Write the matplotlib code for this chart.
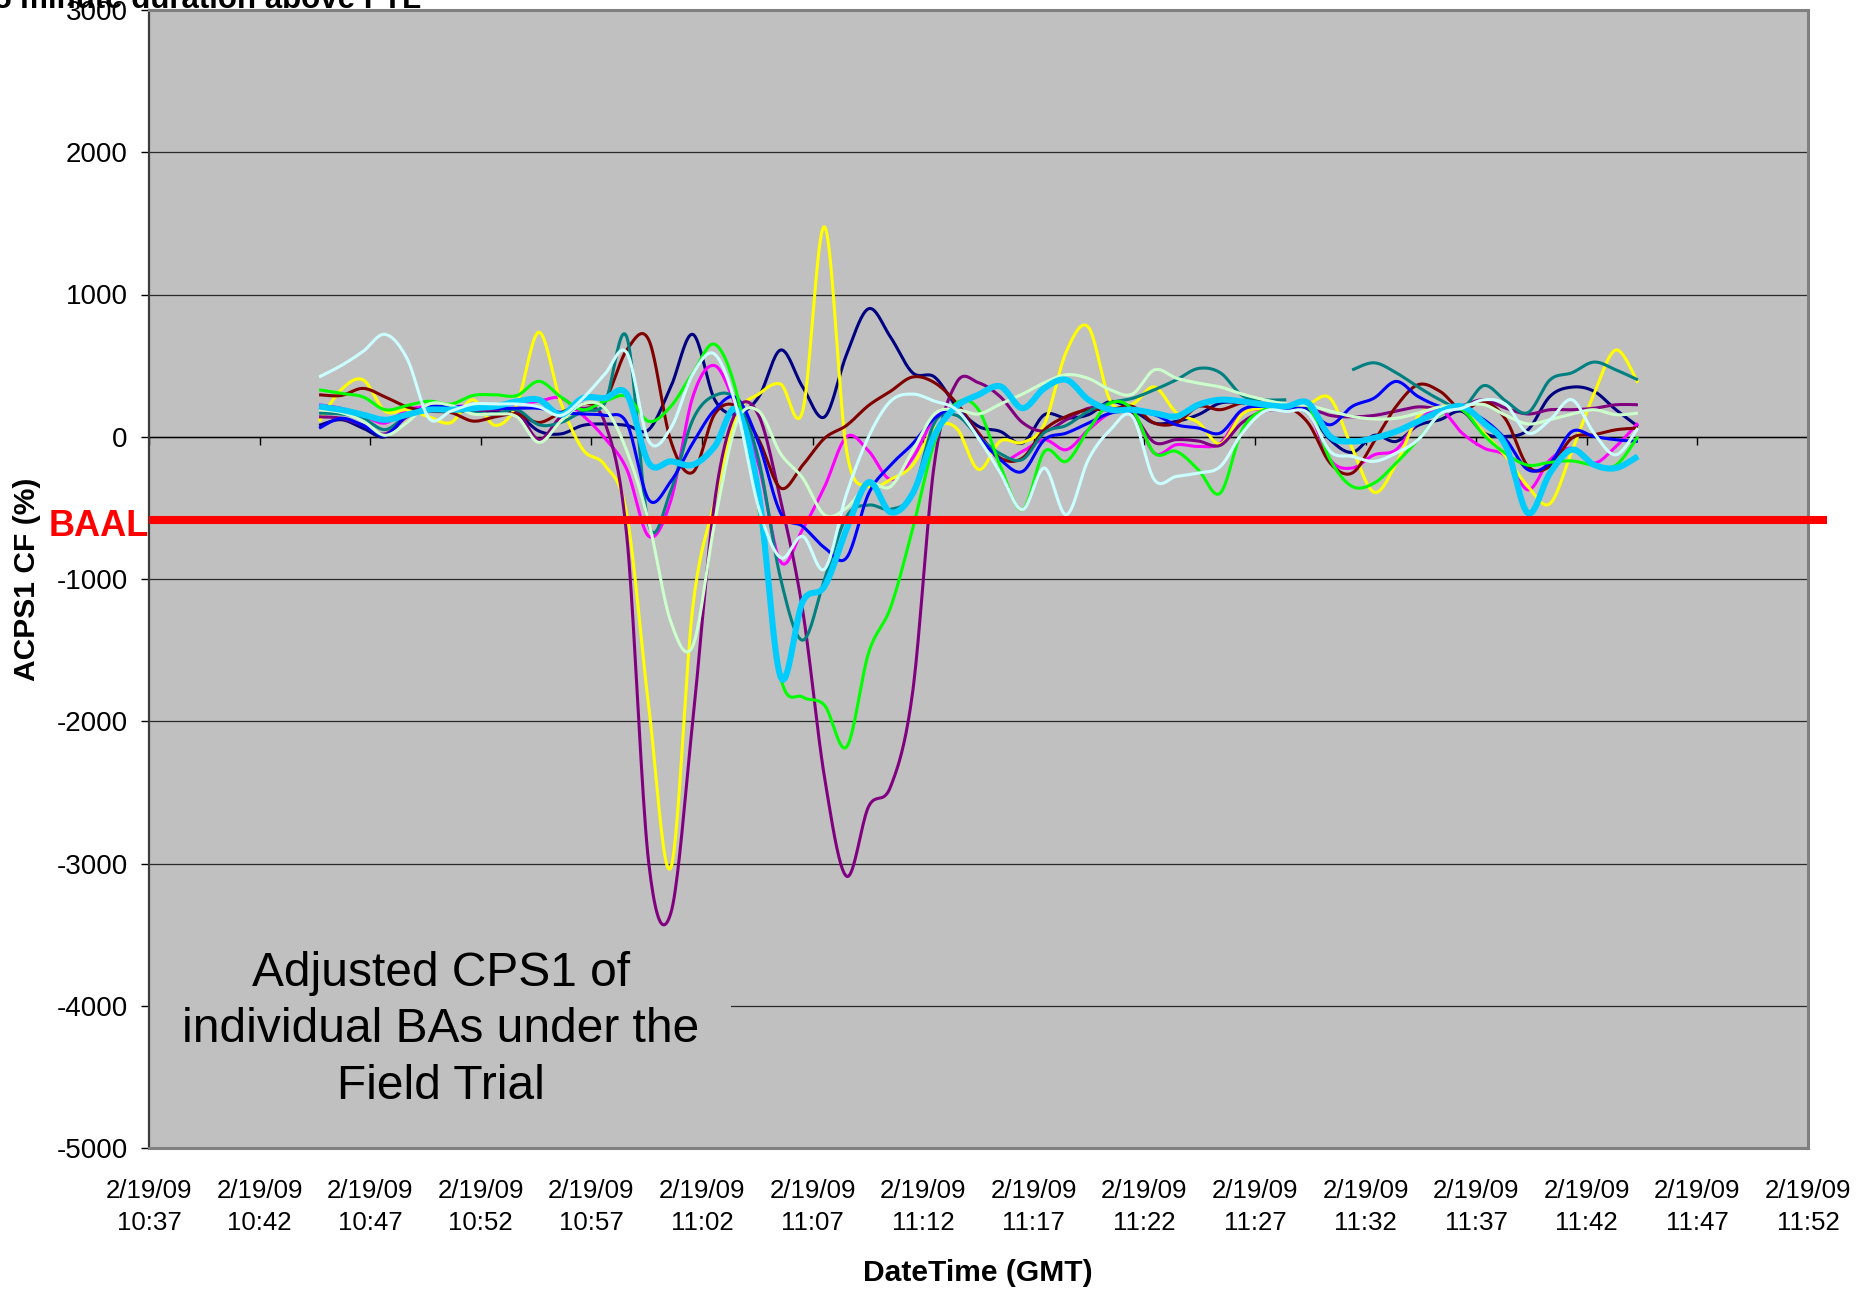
import numpy as np
import matplotlib
matplotlib.use("Agg")
import matplotlib.pyplot as plt
from matplotlib.patches import Rectangle
import matplotlib.transforms as mtransforms

# ---------------- data ----------------
# x axis: minutes after 2/19/09 10:37 GMT
tick_minutes = [0, 5, 10, 15, 20, 25, 30, 35, 40, 45, 50, 55, 60, 65, 70, 75]
tick_labels = ["2/19/09\n10:37", "2/19/09\n10:42", "2/19/09\n10:47", "2/19/09\n10:52",
               "2/19/09\n10:57", "2/19/09\n11:02", "2/19/09\n11:07", "2/19/09\n11:12",
               "2/19/09\n11:17", "2/19/09\n11:22", "2/19/09\n11:27", "2/19/09\n11:32",
               "2/19/09\n11:37", "2/19/09\n11:42", "2/19/09\n11:47", "2/19/09\n11:52"]
y_ticks = [3000, 2000, 1000, 0, -1000, -2000, -3000, -4000, -5000]
BAAL_LEVEL = -585

# 61 samples, roughly one per minute, from about 10:44:41 to 11:44:19
sample_minutes = np.linspace(7.69, 67.31, 61)

nan = np.nan
navy = [80, 120, 60, 0, 150, 200, 190, 180, 170, 160, 40, 20, 80, 90, 80, 50, 350, 720, 260, 160,
        280, 610, 350, 140, 580, 900, 700, 450, 420, 213, 73, 37, -45, 155, 131, 155, 248, 190, 96, 108,
        155, 237, 237, 213, 201, 170, -21, -110, 10, -33, 80, 120, 178, 26, 2, 49, 284, 349, 320, 190, 73]
magenta = [225, 200, 150, 96, 190, 210, 210, 220, 220, 230, 250, 272, 150, -10, -230, -700, -450, 280, 500, 200,
           -200, -880, -650, -350, 0, -100, -300, -150, 130, 190, 26, -162, -103, -21, -91, 49, 166, 178, -115, -56,
           -68, -45, 166, 190, 190, 178, -162, -220, -127, -91, 108, 190, 26, -80, -138, -373, -162, -80, -185, -68, 96]
yellow = [108, 330, 400, 180, 190, 140, 100, 260, 80, 230, 735, 240, -90, -200, -550, -1900, -3030, -1200, -450, 150,
          300, 370, 180, 1476, -100, -350, -300, -200, 60, 60, -230, -30, -40, 90, 600, 770, 250, 230, 350, 170,
          100, -50, 160, 200, 200, 230, 270, -80, -390, -190, 143, 213, 190, 26, -140, -350, -470, -100, 300, 610, 380]
lightcyan = [420, 500, 600, 720, 550, 130, 180, 230, 230, 230, 210, 150, 270, 440, 590, -30, 60, 440, 580, 200,
             -500, -850, -700, -930, -400, 0, 250, 300, 250, 190, -10, -255, -513, -220, -548, -160, 49, 143, -302, -279,
             -255, -209, 26, 178, 178, 166, -103, -138, -173, -115, -21, 160, 201, 260, 225, 26, 119, 260, 26, -127, 61]
purple = [140, 130, 80, 20, 140, 190, 200, 180, 190, 180, -20, 140, 200, 100, -700, -3000, -3350, -2000, -450, 185,
          150, -450, -1220, -2400, -3090, -2600, -2460, -1800, -180, 380, 380, 280, 100, 40, 120, 200, 200, 160, -40, -20,
          -30, -60, 100, 180, 190, 200, 150, 140, 150, 180, 210, 200, 220, 260, 200, 160, 190, 190, 200, 225, 225]
maroon = [295, 290, 340, 280, 210, 180, 170, 110, 140, 160, 100, 170, 230, 260, 611, 680, -30, -250, 160, 213,
          -21, -361, -200, -10, 80, 220, 320, 420, 380, 237, 26, -150, -150, 49, 143, 190, 190, 213, 96, 96,
          213, 190, 237, 225, 213, 96, -185, -255, -33, 213, 366, 319, 190, 248, 119, -208, -208, -9, 14, 49, 61]
teal = [166, 160, 130, 50, 150, 200, 190, 170, 160, 190, 84, 100, 180, 237, 700, -620, -380, 119, 290, 250,
        -162, -1000, -1430, -1000, -560, -480, -510, -400, 100, 150, 0, -120, -160, 30, 80, 180, 240, 270, 330, 400,
        480, 450, 290, 260, 260, nan, nan, 470, 520, 450, 350, 260, 200, 360, 250, 170, 400, 450, 525, 470, 400]
blue = [60, 130, 80, 10, 150, 210, 210, 210, 200, 200, 200, 170, 160, 150, 96, -443, -314, -45, 190, 272,
        -45, -537, -630, -780, -850, -400, -200, -50, 130, 190, 2, -162, -244, -21, 26, 96, 166, 178, 155, 84,
        61, 26, 190, 213, 201, 190, 84, 213, 272, 389, 283, 213, 190, 119, -21, -232, -185, 37, 2, -21, -33]
skyblue = [213, 190, 155, 119, 155, 190, 190, 201, 213, 248, 260, 155, 272, 272, 300, -185, -173, -197, -68, 190,
           -400, -1690, -1160, -1050, -650, -320, -531, -400, 12, 213, 295, 354, 201, 342, 400, 260, 190, 190, 166, 143,
           225, 260, 248, 225, 213, 237, 2, -33, -9, 37, 108, 178, 213, 96, -68, -537, -255, -91, -197, -220, -138]
green = [330, 305, 280, 190, 220, 250, 230, 290, 295, 290, 390, 280, 190, 250, 283, 108, 213, 447, 650, 307,
         -500, -1690, -1830, -1889, -2180, -1519, -1200, -650, -40, 237, 190, -209, -513, -103, -173, 49, 237, 190, -115, -103,
         -232, -396, 49, 190, 213, 213, -162, -349, -326, -185, -21, 155, 190, 10, -120, -200, -180, -170, -200, -200, 0]
lightgreen = [190, 170, 110, 10, 100, 230, 220, 160, 160, 140, -40, 110, 230, 200, -100, -600, -1300, -1470, -600, 100,
              180, -120, -290, -550, -500, -330, -350, -100, 160, 190, 160, 230, 300, 380, 436, 410, 330, 300, 470, 412,
              377, 350, 300, 260, 230, 220, 180, 143, 125, 130, 166, 210, 220, 225, 150, 90, 120, 160, 190, 155, 166]

series = [
    (navy, "#000080", 2.2),
    (magenta, "#FF00FF", 2.2),
    (yellow, "#FFFF00", 2.2),
    (purple, "#800080", 2.2),
    (maroon, "#800000", 2.2),
    (teal, "#008080", 2.2),
    (blue, "#0000FF", 2.2),
    (green, "#00FF00", 2.2),
    (lightgreen, "#CCFFCC", 2.2),
    (skyblue, "#00CCFF", 4.4),
    (lightcyan, "#CCFFFF", 2.2),
]


def smooth(x, y, n=20):
    """Excel-like smoothed line (Bezier through every point)."""
    x = np.asarray(x, float)
    y = np.asarray(y, float)
    if len(x) < 3:
        return x, y
    px = np.concatenate([[x[0]], x, [x[-1]]])
    py = np.concatenate([[y[0]], y, [y[-1]]])
    t = np.linspace(0, 1, n, endpoint=False)[:, None]
    xs, ys = [], []
    for i in range(len(x) - 1):
        p0 = np.array([px[i], py[i]])
        p1 = np.array([px[i + 1], py[i + 1]])
        p2 = np.array([px[i + 2], py[i + 2]])
        p3 = np.array([px[i + 3], py[i + 3]])
        c1 = p1 + (p2 - p0) / 6.0
        c2 = p2 - (p3 - p1) / 6.0
        pts = ((1 - t) ** 3) * p1 + 3 * ((1 - t) ** 2) * t * c1 + 3 * (1 - t) * t ** 2 * c2 + t ** 3 * p2
        xs.append(pts[:, 0])
        ys.append(pts[:, 1])
    xs.append([x[-1]])
    ys.append([y[-1]])
    return np.concatenate(xs), np.concatenate(ys)


# ---------------- figure ----------------
plt.rcParams["font.family"] = ["Liberation Sans", "DejaVu Sans"]
fig = plt.figure(figsize=(18.72, 12.90), dpi=100)
ax = fig.add_axes([149 / 1872, 1 - 1148 / 1290, (1808 - 149) / 1872, (1148 - 10) / 1290])
ax.set_facecolor("#C0C0C0")
ax.set_xlim(tick_minutes[0], tick_minutes[-1])
ax.set_ylim(y_ticks[-1], y_ticks[0])
ax.set_axisbelow(True)

ax.set_yticks(y_ticks)
ax.set_yticklabels([str(v) for v in y_ticks])
ax.tick_params(axis="y", direction="out", length=8 * 0.72, width=1, color="black",
               labelsize=20, pad=9.5)
ax.set_xticks(tick_minutes)
ax.set_xticklabels(tick_labels)
ax.tick_params(axis="x", length=0, labelsize=18.6, pad=22)
for lab in ax.get_xticklabels():
    lab.set_multialignment("center")
    lab.set_linespacing(1.46)

ax.yaxis.grid(True, color="#2a2a2a", linewidth=0.9)
ax.xaxis.grid(False)

for side in ["top", "right", "bottom"]:
    ax.spines[side].set_color("#808080")
    ax.spines[side].set_linewidth(2.2)
ax.spines["left"].set_color("#3c3c3c")
ax.spines["left"].set_linewidth(1.6)

# category axis line at zero with downward tick marks
ax.axhline(0, color="black", linewidth=1.0, zorder=0.8)
ax.plot(tick_minutes, np.zeros(len(tick_minutes)), linestyle="none", marker=3,
        markersize=8 * 0.72, markeredgewidth=1.0, color="black", zorder=0.8, clip_on=False)

# text box area (covers gridline)
ax.add_patch(Rectangle((0, 0), (731 - 149) / 1659, 0.19, transform=ax.transAxes,
                       facecolor="#C0C0C0", edgecolor="none", zorder=0.9))

# series
for vals, col, lw in series:
    v = np.asarray(vals, float)
    assert len(v) == len(sample_minutes)
    ok = ~np.isnan(v)
    idx = np.where(ok)[0]
    runs = np.split(idx, np.where(np.diff(idx) != 1)[0] + 1)
    for r in runs:
        if len(r) == 0:
            continue
        sx, sy = smooth(sample_minutes[r], v[r])
        ax.plot(sx, sy, color=col, linewidth=lw, solid_capstyle="butt", zorder=2)

# BAAL line (extends a little past the plot area)
trans = mtransforms.blended_transform_factory(ax.transAxes, ax.transData)
ax.plot([0, 1.0115], [BAAL_LEVEL, BAAL_LEVEL], transform=trans, color="#FF0000",
        linewidth=5.8, solid_capstyle="butt", clip_on=False, zorder=5)
baal_txt = ax.text(0.0, BAAL_LEVEL, "BAAL", transform=trans, ha="right", va="center",
                   color="#FF0000", fontsize=26, fontweight="bold", zorder=6)
baal_txt.set_transform(trans + mtransforms.ScaledTranslation(0, -7 / 100, fig.dpi_scale_trans))

ax.text((441 - 149) / 1659, (1148 - 1030) / 1138,
        "Adjusted CPS1 of\nindividual BAs under the\nField Trial",
        transform=ax.transAxes, ha="center", va="center", multialignment="center",
        fontsize=34.5, linespacing=1.32, color="black", zorder=3)

fig.text(27 / 1872, 1 - 579 / 1290, "ACPS1 CF (%)", rotation=90, ha="center", va="center",
         fontsize=21.6, fontweight="bold")
fig.text(978 / 1872, 1 - 1273 / 1290, "DateTime (GMT)", ha="center", va="center",
         fontsize=21.6, fontweight="bold")
fig.text(-6 / 1872, 1 - 8 / 1290, "5 minute duration above FTL", ha="left", va="baseline",
         fontsize=22.5, fontweight="bold")

fig.savefig("out.png", dpi=100, facecolor="white")
